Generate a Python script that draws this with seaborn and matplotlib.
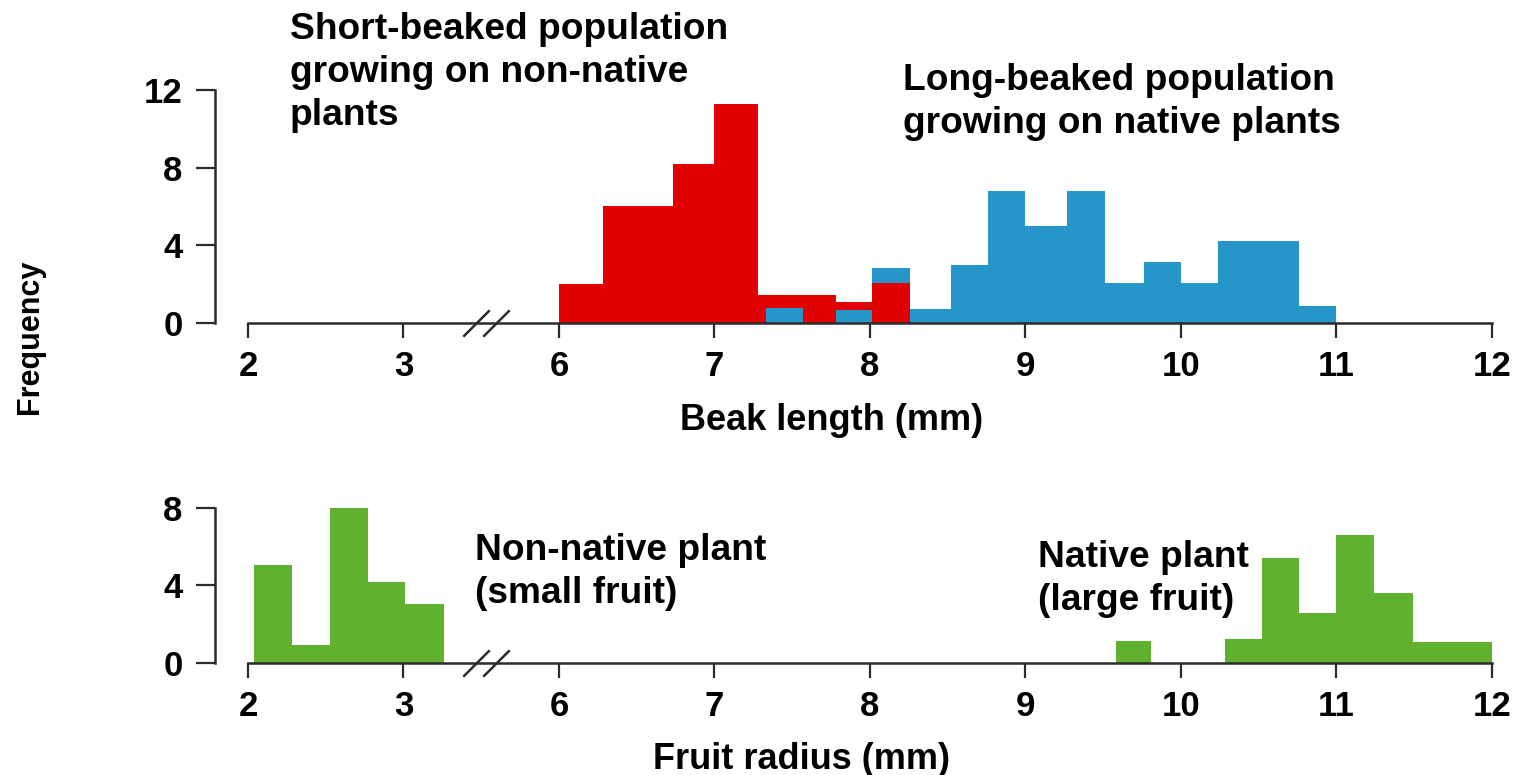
import numpy as np
import pandas as pd
import matplotlib
matplotlib.use("Agg")
import matplotlib.pyplot as plt
import seaborn as sns

# ====================== DATA ======================
# bin edges in mm, frequency per bin
beak_edges_short = [6.0, 6.28, 6.5, 6.73, 7.0, 7.28, 7.53, 7.78, 8.01, 8.26]
beak_freq_short = [2.0, 6.0, 6.0, 8.2, 11.3, 1.45, 1.45, 1.1, 2.05]

beak_edges_long = [7.33, 7.57, 7.78, 8.01, 8.26, 8.52, 8.76, 9.0, 9.27,
                   9.51, 9.76, 10.0, 10.24, 10.5, 10.76, 11.0]
beak_freq_long = [0.77, 0, 0.67, 2.85, 0.72, 3.0, 6.8, 5.0, 6.8,
                  2.06, 3.15, 2.06, 4.2, 4.2, 0.88]

fruit_edges_small = [2.04, 2.28, 2.53, 2.77, 3.01, 3.26]
fruit_freq_small = [5.05, 0.93, 8.0, 4.17, 3.04]

fruit_edges_large = [9.58, 9.81, 10.05, 10.28, 10.52, 10.76, 11.0, 11.24,
                     11.49, 11.75, 12.0]
fruit_freq_large = [1.13, 0, 0, 1.26, 5.4, 2.56, 6.6, 3.6, 1.1, 1.1]

x_ticks = [2, 3, 6, 7, 8, 9, 10, 11, 12]
beak_yticks = [0, 4, 8, 12]
fruit_yticks = [0, 4, 8]

# ====================== STYLE ======================
sns.set_style("ticks")
plt.rcParams['font.family'] = ['Liberation Sans', 'DejaVu Sans']
plt.rcParams['font.weight'] = 'bold'
plt.rcParams['text.color'] = 'black'
plt.rcParams['axes.labelcolor'] = 'black'

RED = '#E00000'
BLUE = '#2696C8'
GREEN = '#60B22E'
AXIS_COLOR = '#2b2b2b'


# broken x axis: 2-3 mm and 6-12 mm sit side by side, the gap is squeezed out
def to_pos(v):
    v = np.asarray(v, dtype=float)
    return np.where(v <= 3.4, v - 2,
                    np.where(v >= 5.6, v - 4, 1.4 + (v - 3.4) * (0.2 / 2.2)))


def hist_bars(ax, edges, freq, color):
    pos = to_pos(edges)
    df = pd.DataFrame({'pos': (pos[:-1] + pos[1:]) / 2, 'freq': freq})
    sns.histplot(data=df, x='pos', weights='freq', bins=pos.tolist(), ax=ax,
                 color=color, alpha=1, edgecolor='none', linewidth=0)


def style_axis(ax, ymax, yticks, xlabel, label_xy):
    # shorter bar drawn in front where the two populations overlap
    for p in ax.patches:
        p.set_zorder(2 - p.get_height() / 100)
    ax.set_xlim(0, 8)
    ax.set_ylim(0, ymax)
    ax.set_xticks(to_pos(x_ticks))
    ax.set_xticklabels([str(t) for t in x_ticks])
    ax.set_yticks(yticks)
    ax.minorticks_off()
    sns.despine(ax=ax)
    ax.spines['left'].set_position(('outward', 24))
    ax.spines['left'].set_bounds(0, ymax)
    for s in ['left', 'bottom']:
        ax.spines[s].set_linewidth(1.8)
        ax.spines[s].set_color(AXIS_COLOR)
    ax.tick_params(axis='x', length=11, width=1.6, pad=8.5, labelsize=25,
                   color=AXIS_COLOR, labelcolor='black')
    ax.tick_params(axis='y', length=14, width=1.6, pad=9, labelsize=25,
                   color=AXIS_COLOR, labelcolor='black')
    ax.set_ylabel('')
    ax.set_xlabel(xlabel, fontsize=26, fontweight='bold')
    ax.xaxis.set_label_coords(*label_xy)
    # the // break marks
    ax.plot([0.183, 0.199], [0, 0], transform=ax.get_yaxis_transform(),
            marker=[(-1, -1), (1, 1)], markersize=19, mew=1.8,
            color=AXIS_COLOR, linestyle='none', clip_on=False, zorder=5)


# ====================== FIGURE ======================
fig = plt.figure(figsize=(15.24, 7.75), dpi=100)
ax_beak = fig.add_axes([0.16273, 0.58323, 0.81627, 0.30065])
ax_fruit = fig.add_axes([0.16273, 0.14452, 0.81627, 0.2])

hist_bars(ax_beak, beak_edges_short, beak_freq_short, RED)
hist_bars(ax_beak, beak_edges_long, beak_freq_long, BLUE)
hist_bars(ax_fruit, fruit_edges_small, fruit_freq_small, GREEN)
hist_bars(ax_fruit, fruit_edges_large, fruit_freq_large, GREEN)

style_axis(ax_beak, 12, beak_yticks, 'Beak length (mm)', (0.469, -0.345))
style_axis(ax_fruit, 8, fruit_yticks, 'Fruit radius (mm)', (0.445, -0.51))

W, H = 1524, 775
text_kw = dict(fontsize=26.7, fontweight='bold', va='top', ha='left', linespacing=1.29)
fig.text(290 / W, 1 - 12 / H, 'Short-beaked population\ngrowing on non-native\nplants', **text_kw)
fig.text(903 / W, 1 - 63 / H, 'Long-beaked population\ngrowing on native plants', **text_kw)
fig.text(475 / W, 1 - 533 / H, 'Non-native plant\n(small fruit)', **text_kw)
fig.text(1038 / W, 1 - 540 / H, 'Native plant\n(large fruit)', **text_kw)

fig.text(30 / W, 1 - 337 / H, 'Frequency', rotation=90, fontsize=22,
         fontweight='bold', va='center', ha='center')

fig.savefig('out.png', dpi=100)
